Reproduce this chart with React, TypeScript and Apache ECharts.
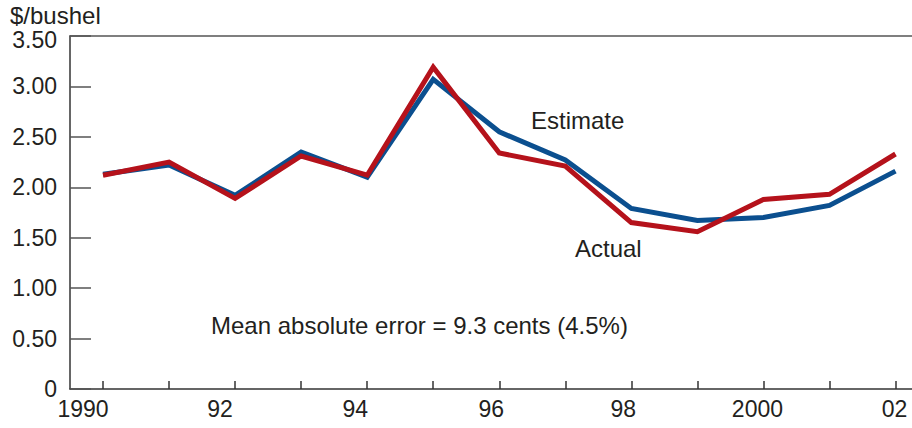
import React, { useEffect, useRef } from "react";
import * as echarts from "echarts";

const years = [1990, 1991, 1992, 1993, 1994, 1995, 1996, 1997, 1998, 1999, 2000, 2001, 2002];
const estimate = [2.13, 2.22, 1.92, 2.35, 2.1, 3.07, 2.55, 2.27, 1.79, 1.67, 1.7, 1.82, 2.16];
const actual = [2.12, 2.25, 1.89, 2.31, 2.12, 3.19, 2.34, 2.21, 1.65, 1.56, 1.88, 1.93, 2.33];
const xLabelYears = [1990, 1992, 1994, 1996, 1998, 2000, 2002];
const xLabelText: Record<number, string> = {
  1990: "1990",
  1992: "92",
  1994: "94",
  1996: "96",
  1998: "98",
  2000: "2000",
  2002: "02",
};

// label styling: left shift (px*2 as right padding) per label, to mimic the original typesetting
const labelStyleKey: Record<number, string> = {
  1990: "a",
  1992: "b",
  1994: "c",
  1996: "d",
  1998: "d",
  2000: "e",
  2002: "f",
};

const FONT = "'Liberation Sans', Arial, Helvetica, sans-serif";
const TEXT = "#231f20";
const AXIS = "#333333";

const xRich = (pad: number) => ({
  fontSize: 23,
  fontFamily: FONT,
  color: TEXT,
  padding: [0, pad, 0, 0],
});

export default function App() {
  const ref = useRef<HTMLDivElement>(null);
  useEffect(() => {
    document.body.style.margin = "0";
    if (!ref.current) return;
    const chart = echarts.init(ref.current, undefined, { renderer: "svg" });
    chart.setOption({
      animation: false,
      backgroundColor: "#ffffff",
      textStyle: { fontFamily: FONT },
      grid: { left: 70, right: 0, top: 36, bottom: 39, containLabel: false },
      xAxis: [
        {
          type: "value",
          min: 1989.5,
          max: 2002.25,
          splitLine: { show: false },
          axisLine: { show: true, lineStyle: { color: AXIS, width: 1.5 } },
          axisTick: {
            show: true,
            inside: true,
            length: 8,
            customValues: years,
            lineStyle: { color: AXIS, width: 1.5 },
          },
          axisLabel: {
            show: true,
            customValues: xLabelYears,
            formatter: (v: number) => {
              const y = Math.round(v);
              const t = xLabelText[y];
              if (!t) return "";
              return `{${labelStyleKey[y]}|${t}}`;
            },
            color: TEXT,
            fontSize: 23,
            fontFamily: FONT,
            margin: 8,
            rich: {
              a: xRich(40),
              b: xRich(30),
              c: xRich(24),
              d: xRich(16),
              e: xRich(12),
              f: xRich(2),
            },
          },
        },
        {
          type: "value",
          position: "top",
          min: 1989.5,
          max: 2002.25,
          splitLine: { show: false },
          axisLine: { show: true, lineStyle: { color: "#555555", width: 1.5 } },
          axisTick: { show: false },
          axisLabel: { show: false },
        },
      ],
      yAxis: {
        type: "value",
        min: 0,
        max: 3.5,
        interval: 0.5,
        splitLine: { show: false },
        axisLine: { show: true, lineStyle: { color: AXIS, width: 1.5 } },
        axisTick: { show: true, inside: true, length: 21, lineStyle: { color: "#555555", width: 1.5 } },
        axisLabel: {
          color: TEXT,
          fontSize: 23,
          fontFamily: FONT,
          margin: 13,
          formatter: (v: number) => (v === 0 ? "0" : v === 3.5 ? "{t|3.50}" : v.toFixed(2)),
          rich: {
            t: { fontSize: 23, fontFamily: FONT, color: TEXT, padding: [8, 0, 0, 0] },
          },
        },
      },
      series: [
        {
          name: "Estimate",
          type: "line",
          data: years.map((y, i) => [y, estimate[i]]),
          symbol: "none",
          lineStyle: { color: "#0b4f8f", width: 5, join: "miter" },
          z: 2,
        },
        {
          name: "Actual",
          type: "line",
          data: years.map((y, i) => [y, actual[i]]),
          symbol: "none",
          lineStyle: { color: "#b5121b", width: 5, join: "miter" },
          z: 3,
        },
      ],
      graphic: [
        {
          type: "text",
          left: 10,
          top: 3,
          style: { text: "$/bushel", fill: TEXT, font: `24px ${FONT}` },
        },
        {
          type: "text",
          left: 531,
          top: 108,
          style: { text: "Estimate", fill: TEXT, font: `24px ${FONT}` },
        },
        {
          type: "text",
          left: 575,
          top: 236,
          style: { text: "Actual", fill: TEXT, font: `24px ${FONT}` },
        },
        {
          type: "text",
          left: 211,
          top: 313,
          style: { text: "Mean absolute error = 9.3 cents (4.5%)", fill: TEXT, font: `24px ${FONT}` },
        },
      ],
    });
    return () => chart.dispose();
  }, []);
  return <div ref={ref} style={{ width: 912, height: 428 }} />;
}
